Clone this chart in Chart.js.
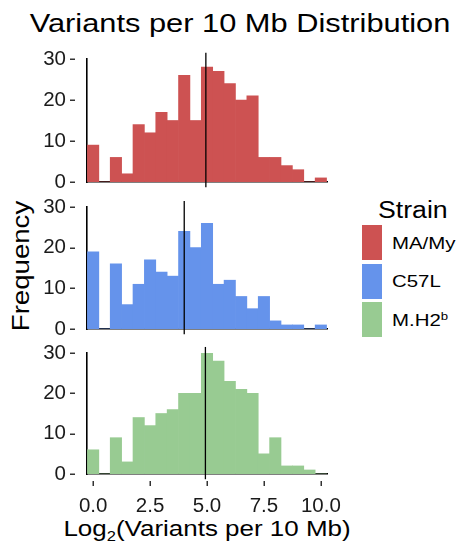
<!DOCTYPE html>
<html><head><meta charset="utf-8">
<script src="https://cdn.jsdelivr.net/npm/chart.js@4.4.1/dist/chart.umd.min.js"></script>
<style>
html,body{margin:0;padding:0;background:#fff;}
body{width:458px;height:549px;position:relative;overflow:hidden;font-family:"Liberation Sans",Arial,sans-serif;color:#000;}
canvas{position:absolute;left:0;}
.t{position:absolute;white-space:nowrap;line-height:1;}
#title{left:240px;top:22.8px;font-size:26px;transform:translate(-50%,-50%) scaleX(1.185);}
#xlab{left:207px;top:529px;font-size:22px;transform:translate(-50%,-50%) scaleX(1.18);}
#xlab sub{font-size:14px;vertical-align:-5px;line-height:0;}
#ylab{left:21px;top:266px;font-size:24px;transform:translate(-50%,-50%) rotate(-90deg) scaleX(1.15);}
#legtitle{left:378px;top:210px;font-size:23px;transform-origin:0 50%;transform:translateY(-50%) scaleX(1.16);}
.key{position:absolute;left:362px;width:20px;height:35px;}
.lab{position:absolute;left:392px;font-size:17px;white-space:nowrap;line-height:1;transform-origin:0 50%;transform:translateY(-50%) scaleX(1.2);}
.lab sup{font-size:11px;vertical-align:6px;line-height:0;}
</style></head><body>
<div id="title" class="t">Variants per 10 Mb Distribution</div>
<div id="ylab" class="t">Frequency</div>
<div id="xlab" class="t">Log<sub>2</sub>(Variants per 10 Mb)</div>
<div id="legtitle" class="t">Strain</div>
<div id="legend"></div>
<canvas id="c0"></canvas>
<canvas id="c1"></canvas>
<canvas id="c2"></canvas>
<script>
// ---- data ----
const binCenters = [0,0.5,1,1.5,2,2.5,3,3.5,4,4.5,5,5.5,6,6.5,7,7.5,8,8.5,9,9.5,10];
const maMyCounts = [9,0,6,2,14,12,17,15,26,15,28,27,24,20,21,6,6,4,3,0,1];
const c57lCounts = [19,0,16,6,11,17,14,13,24,20,26,11,12,8,5,8,2,1,1,0,1];
const mh2bCounts = [6,0,9,3,14,12,15,16,20,20,30,28,23,21,20,5,9,2,2,1,0];
const medians = [4.95, 4.0, 4.93];
const strainNames = ['MA/My','C57L','M.H2<sup>b</sup>'];
const strainColors = ['#CD5252','#6593EB','#98CB92'];
const xTickValues = [0,2.5,5,7.5,10];
const yTickValues = [0,10,20,30];

const seriesList = [maMyCounts, c57lCounts, mh2bCounts];
const FONT = '"Liberation Sans", Arial, sans-serif';

// legend (HTML)
const legend = document.getElementById('legend');
const keyTops = [225, 263.5, 302];
strainNames.forEach((n,i)=>{
  const k = document.createElement('div'); k.className='key';
  k.style.top = keyTops[i]+'px'; k.style.background = strainColors[i];
  legend.appendChild(k);
  const l = document.createElement('div'); l.className='lab';
  l.style.top = (keyTops[i]+17.5)+'px'; l.innerHTML = n;
  legend.appendChild(l);
});

const dashPlugin = {
  id:'dashes',
  afterDraw(chart){
    const ctx = chart.ctx, ys = chart.scales.y, xs = chart.scales.x;
    ctx.save(); ctx.strokeStyle = '#333'; ctx.lineWidth = 1.5;
    ys.ticks.forEach(t=>{
      const py = Math.round(ys.getPixelForValue(t.value)) + 0.25;
      ctx.beginPath(); ctx.moveTo(ys.right-17, py); ctx.lineTo(ys.right-12, py); ctx.stroke();
    });
    if (chart.options.scales.x.ticks.display) {
      xs.ticks.forEach(t=>{
        const px = Math.round(xs.getPixelForValue(t.value)) + 0.25;
        ctx.beginPath(); ctx.moveTo(px, xs.top+7); ctx.lineTo(px, xs.top+12); ctx.stroke();
      });
    }
    ctx.restore();
  }
};

const panelTops = [46, 194, 340];
const panelHeights = [146, 145, 209];

function makePanel(i){
  const isBottom = i === 2;
  const cv = document.getElementById('c'+i);
  cv.width = 360; cv.height = panelHeights[i];
  cv.style.top = panelTops[i]+'px';
  cv.style.width = '360px'; cv.style.height = panelHeights[i]+'px';
  new Chart(cv, {
    type:'bar',
    data:{datasets:[
      {type:'line', data:[{x:medians[i], y:-1.3},{x:medians[i], y:31.5}],
       borderColor:'#000', borderWidth:1.3, pointRadius:0, clip:false, order:0},
      {type:'bar', label: strainNames[i], data: binCenters.map((b,j)=>({x:b, y:seriesList[i][j]})),
       backgroundColor: strainColors[i], borderWidth:0, barPercentage:1, categoryPercentage:1, order:1}
    ]},
    options:{
      responsive:false, animation:false, events:[],
      layout:{padding:{top:13, right:33, left:0, bottom:0}},
      plugins:{legend:{display:false}, tooltip:{enabled:false}},
      scales:{
        x:{type:'linear', min:-0.27, max:10.27, offset:false,
          grid:{display:false, drawTicks:false},
          border:{display:true, color:'#000', width:1.6},
          ticks:{display:isBottom, padding:20, color:'#1a1a1a', font:{family:FONT, size:20.5},
                 callback:v=>Number(v).toFixed(1), maxRotation:0},
          afterBuildTicks:s=>{ s.ticks = xTickValues.map(v=>({value:v})); },
          afterFit:s=>{ s.height = isBottom ? 75 : 10; s.paddingLeft = 0; s.paddingRight = 0; }
        },
        y:{type:'linear', min:0, max:30,
          grid:{display:false, drawTicks:false},
          border:{display:true, color:'#000', width:1.6},
          ticks:{padding:21, color:'#1a1a1a', font:{family:FONT, size:20.5}},
          afterBuildTicks:s=>{ s.ticks = yTickValues.map(v=>({value:v})); },
          afterFit:s=>{ s.width = 87; s.paddingTop = 0; s.paddingBottom = 0; }
        }
      }
    },
    plugins:[dashPlugin]
  });
}
[0,1,2].forEach(makePanel);
</script>
</body></html>
